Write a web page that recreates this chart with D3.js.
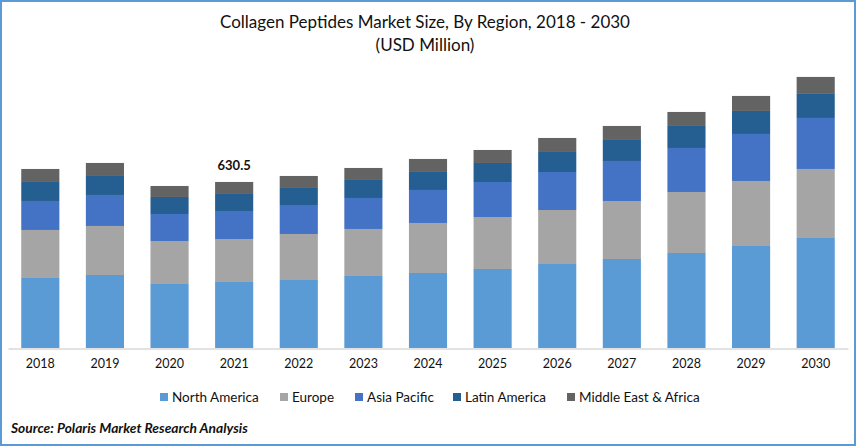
<!DOCTYPE html>
<html>
<head>
<meta charset="utf-8">
<script src="https://cdn.jsdelivr.net/npm/d3@7"></script>
<style>
  html, body { margin: 0; padding: 0; background: #fff; }
  svg { display: block; }
  text { font-family: Lato, "Open Sans", sans-serif; fill: #111; }
</style>
</head>
<body>
<script>
var years = ["2018","2019","2020","2021","2022","2023","2024","2025","2026","2027","2028","2029","2030"];
var regions = ["North America","Europe","Asia Pacific","Latin America","Middle East & Africa"];
var northAmerica = [265.9,277.3,243.1,250.7,258.3,273.5,284.9,300.0,319.0,338.0,360.8,387.4,417.8];
var europe = [182.3,186.1,163.3,163.3,174.7,178.5,189.9,197.5,205.1,220.3,231.7,246.9,262.1];
var asiaPacific = [110.1,117.7,102.5,106.3,110.1,117.7,125.3,132.9,144.3,151.9,167.1,178.5,193.7];
var latinAmerica = [72.2,72.2,64.6,64.6,64.6,68.4,68.4,72.2,76.0,79.8,83.6,87.4,91.2];
var middleEast = [49.4,49.4,41.8,45.6,45.6,45.6,49.4,49.4,53.2,53.2,53.2,57.0,64.6];
var colors = ["#5b9bd5","#a5a5a5","#4472c4","#255e91","#636363"];
var labelYear = "2021";
var labelValue = "630.5";

var width = 856, height = 446;
var svg = d3.select("body").append("svg")
  .attr("width", width)
  .attr("height", height);

// frame
svg.append("rect")
  .attr("x", 1).attr("y", 1)
  .attr("width", width - 2).attr("height", height - 2)
  .attr("fill", "#fff")
  .attr("stroke", "#5b9bd5")
  .attr("stroke-width", 2);

var x = d3.scaleBand().domain(years).range([8, 848]).paddingInner(0.41).paddingOuter(0.205);
var y = d3.scaleLinear().domain([0, 1200]).range([348, 32]);

var rows = years.map(function(year, i){
  return {
    year: year,
    "North America": northAmerica[i],
    "Europe": europe[i],
    "Asia Pacific": asiaPacific[i],
    "Latin America": latinAmerica[i],
    "Middle East & Africa": middleEast[i]
  };
});
var stacked = d3.stack().keys(regions)(rows);

svg.selectAll("g.series")
  .data(stacked)
  .enter().append("g")
  .attr("class", "series")
  .attr("fill", function(d, i){ return colors[i]; })
  .selectAll("rect")
  .data(function(d){ return d; })
  .enter().append("rect")
  .attr("x", function(d){ return x(d.data.year); })
  .attr("y", function(d){ return y(d[1]); })
  .attr("width", x.bandwidth())
  .attr("height", function(d){ return y(d[0]) - y(d[1]); });

// x axis
var axis = svg.append("g")
  .attr("transform", "translate(0,348.5)")
  .call(d3.axisBottom(x).tickSize(0).tickPadding(11));
axis.select(".domain").attr("stroke", "#d9d9d9").attr("stroke-width", 1.5);
axis.selectAll("text")
  .style("font-family", "Lato, sans-serif")
  .style("font-size", "12.5px")
  .attr("fill", "#111");

// title
svg.append("text")
  .attr("x", 425).attr("y", 28)
  .attr("text-anchor", "middle")
  .style("font-size", "17px")
  .text("Collagen Peptides Market Size, By Region, 2018 - 2030");
svg.append("text")
  .attr("x", 425).attr("y", 51)
  .attr("text-anchor", "middle")
  .style("font-size", "17px")
  .text("(USD Million)");

// the one total label
var labelRow = rows[years.indexOf(labelYear)];
svg.append("text")
  .attr("x", x(labelYear) + x.bandwidth() / 2)
  .attr("y", y(d3.sum(regions, function(r){ return labelRow[r]; })) - 12)
  .attr("text-anchor", "middle")
  .style("font-size", "13px")
  .style("font-weight", "700")
  .text(labelValue);

// legend
var legendX = [160, 280, 355, 453, 567];
var legend = svg.selectAll("g.legend")
  .data(regions)
  .enter().append("g")
  .attr("class", "legend")
  .attr("transform", function(d, i){ return "translate(" + legendX[i] + ",393)"; });
legend.append("rect")
  .attr("width", 8).attr("height", 8)
  .attr("fill", function(d, i){ return colors[i]; });
legend.append("text")
  .attr("x", 12).attr("y", 9)
  .style("font-size", "13.5px")
  .text(function(d){ return d; });

// source
svg.append("text")
  .attr("x", 11).attr("y", 433)
  .style("font-size", "13.8px")
  .style("font-weight", "700")
  .style("font-style", "italic")
  .text("Source: Polaris  Market Research Analysis");
</script>
</body>
</html>
